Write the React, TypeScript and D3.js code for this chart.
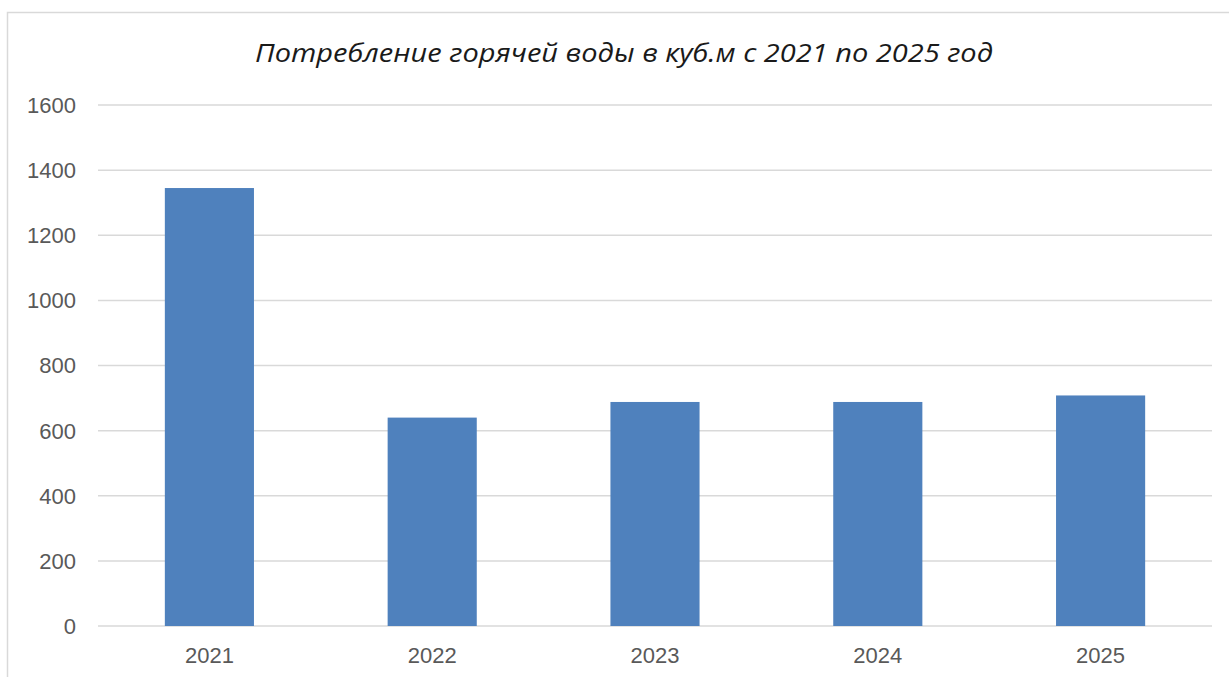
import React from "react";
import * as d3 from "d3";

const years: string[] = ["2021", "2022", "2023", "2024", "2025"];
const values: number[] = [1345, 640, 688, 688, 708];
const yTicks: number[] = [0, 200, 400, 600, 800, 1000, 1200, 1400, 1600];
const title = "Потребление горячей воды в куб.м с 2021 по 2025 год";

export default function App() {
  const W = 1229;
  const H = 677;
  const left = 98;
  const right = 1212;
  const x = d3.scaleBand<string>().domain(years).range([left, right]).paddingInner(0.6).paddingOuter(0.3);
  const y = d3.scaleLinear().domain([0, 1600]).range([626, 105]);
  return (
    <svg width={W} height={H} style={{ position: "absolute", left: 0, top: 0, background: "#fff" }}>
      <rect x={7.5} y={12.5} width={1300} height={800} fill="#fff" stroke="#d9d9d9" strokeWidth={1.5} />
      <text
        x={624}
        y={62}
        textAnchor="middle"
        fontFamily="'Open Sans', sans-serif"
        fontStyle="italic"
        fontSize={25}
        fill="#1a1a1a"
        textLength={738}
        lengthAdjust="spacingAndGlyphs"
      >
        {title}
      </text>
      {yTicks.map((t) => (
        <g key={t}>
          <line x1={left} x2={right} y1={y(t)} y2={y(t)} stroke="#d9d9d9" strokeWidth={1.5} />
          <text
            x={76}
            y={y(t)}
            dy="0.36em"
            textAnchor="end"
            fontFamily="'Liberation Sans', Arial, sans-serif"
            fontSize={22}
            fill="#595959"
          >
            {t}
          </text>
        </g>
      ))}
      {years.map((yr, i) => (
        <g key={yr}>
          <rect x={x(yr)} y={y(values[i])} width={x.bandwidth()} height={y(0) - y(values[i])} fill="#4f81bd" />
          <text
            x={(x(yr) as number) + x.bandwidth() / 2}
            y={663}
            textAnchor="middle"
            fontFamily="'Liberation Sans', Arial, sans-serif"
            fontSize={22}
            fill="#595959"
          >
            {yr}
          </text>
        </g>
      ))}
    </svg>
  );
}
